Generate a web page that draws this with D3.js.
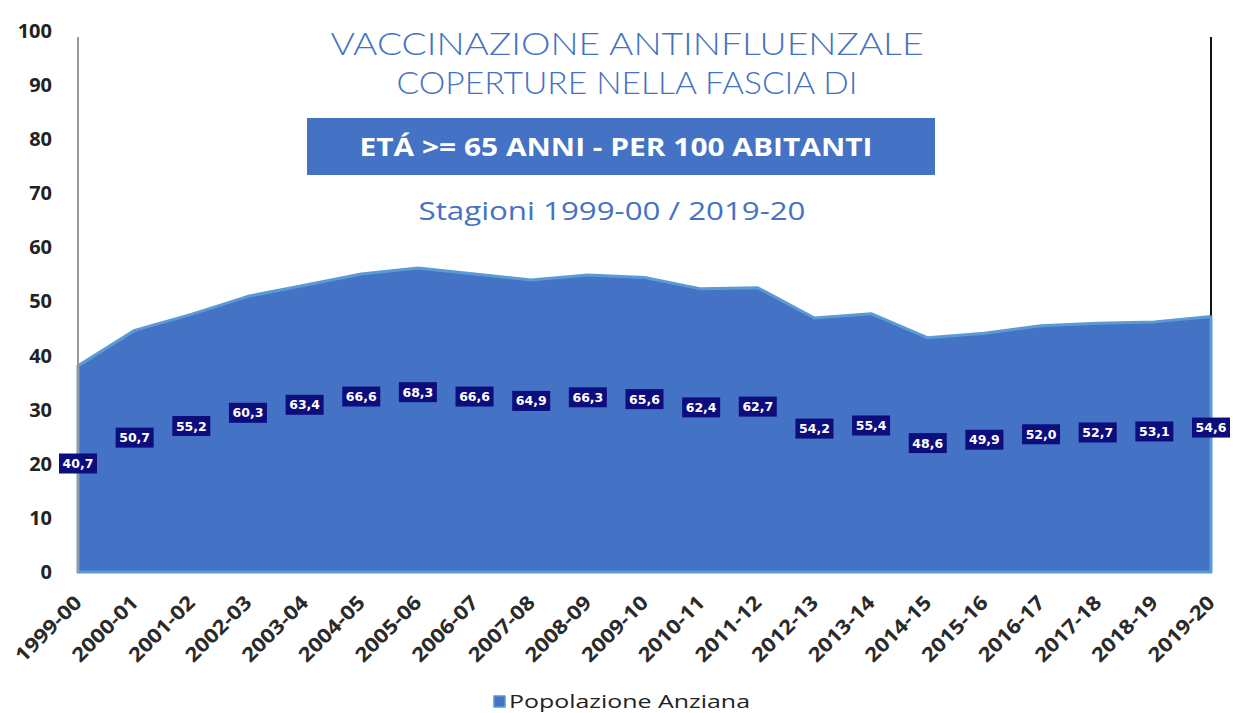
<!DOCTYPE html>
<html>
<head>
<meta charset="utf-8">
<script src="https://cdn.jsdelivr.net/npm/d3@7"></script>
<style>
  html, body { margin: 0; padding: 0; background: #ffffff; }
  svg { display: block; }
</style>
</head>
<body>
<svg id="chart" width="1233" height="713"></svg>
<script>
// ---- data ----
const seasons = ["1999-00","2000-01","2001-02","2002-03","2003-04","2004-05","2005-06","2006-07","2007-08","2008-09","2009-10","2010-11","2011-12","2012-13","2013-14","2014-15","2015-16","2016-17","2017-18","2018-19","2019-20"];
const coverage = [40.7,50.7,55.2,60.3,63.4,66.6,68.3,66.6,64.9,66.3,65.6,62.4,62.7,54.2,55.4,48.6,49.9,52.0,52.7,53.1,54.6];
const yTicks = [0,10,20,30,40,50,60,70,80,90,100];
const seriesName = "Popolazione Anziana";
const titleLines = ["VACCINAZIONE ANTINFLUENZALE", "COPERTURE NELLA FASCIA DI"];
const bannerText = "ETÁ >= 65 ANNI - PER 100 ABITANTI";
const subtitle = "Stagioni 1999-00 / 2019-20";

const svg = d3.select("#chart");
const blue = "#4472c4", lightBlue = "#5b9bd5", navy = "#0d0d7d";

const x = d3.scalePoint().domain(seasons).range([78, 1211]);
const y = d3.scaleLinear().domain([0, 100]).range([572, 31]);
// the area in the reference is drawn on a compressed secondary scale
const yArea = d3.scaleLinear().domain([0, 100]).range([y(11.4), y(77.0)]);
// data labels sit on their own compressed scale
const yLabel = d3.scaleLinear().domain([0, 100]).range([y(0.6), y(48.4)]);

const data = seasons.map((s, i) => ({ s, v: coverage[i] }));

// area
const area = d3.area()
  .x(d => x(d.s))
  .y0(y(0))
  .y1(d => yArea(d.v));
svg.append("path")
  .datum(data)
  .attr("d", area)
  .attr("fill", blue)
  .attr("stroke", lightBlue)
  .attr("stroke-width", 3)
  .attr("stroke-linejoin", "round");

// left axis line
svg.append("line")
  .attr("x1", x(seasons[0])).attr("x2", x(seasons[0]))
  .attr("y1", y(100) + 6).attr("y2", y(0))
  .attr("stroke", "#9a9a9a").attr("stroke-width", 2);

// right black line
svg.append("line")
  .attr("x1", x(seasons[seasons.length-1])).attr("x2", x(seasons[seasons.length-1]))
  .attr("y1", y(100) + 6).attr("y2", yArea(coverage[coverage.length-1]) - 1)
  .attr("stroke", "#111").attr("stroke-width", 2);

// y axis labels
const yAxis = svg.append("g")
  .attr("transform", `translate(${x(seasons[0])},0)`)
  .call(d3.axisLeft(y).tickValues(yTicks).tickSize(0).tickPadding(26));
yAxis.select(".domain").remove();
yAxis.selectAll("text")
  .attr("font-family", "'Open Sans', sans-serif")
  .attr("font-weight", 700)
  .attr("font-size", 20)
  .attr("fill", "#222");

// x axis labels (rotated -45°)
const xAxis = svg.append("g").attr("class", "x-labels");
xAxis.selectAll("text").data(seasons).join("text")
  .attr("transform", d => `translate(${x(d) + 5},${y(0) + 32}) rotate(-45)`)
  .attr("text-anchor", "end")
  .attr("font-family", "'Open Sans', sans-serif")
  .attr("font-weight", 700)
  .attr("font-size", 20)
  .attr("fill", "#2a2a2a")
  .attr("textLength", 84).attr("lengthAdjust", "spacingAndGlyphs")
  .text(d => d);

// data labels
const lab = svg.append("g").selectAll("g").data(data).join("g")
  .attr("transform", d => `translate(${x(d.s)},${yLabel(d.v)})`);
lab.append("rect")
  .attr("x", -19).attr("y", -10).attr("width", 38).attr("height", 20)
  .attr("fill", navy);
lab.append("text")
  .attr("text-anchor", "middle")
  .attr("dy", "0.36em")
  .attr("font-family", "'DejaVu Sans', sans-serif")
  .attr("font-weight", 700)
  .attr("font-size", 12.5)
  .attr("fill", "#fff")
  .text(d => d3.format(".1f")(d.v).replace(".", ","));

// titles
const cx = 627;
svg.append("text")
  .attr("x", cx).attr("y", 55)
  .attr("text-anchor", "middle")
  .attr("font-family", "'Lato', sans-serif")
  .attr("font-weight", 300)
  .attr("font-size", 31)
  .attr("fill", blue)
  .attr("textLength", 593).attr("lengthAdjust", "spacingAndGlyphs")
  .text(titleLines[0]);
svg.append("text")
  .attr("x", cx).attr("y", 94)
  .attr("text-anchor", "middle")
  .attr("font-family", "'Lato', sans-serif")
  .attr("font-weight", 300)
  .attr("font-size", 31)
  .attr("fill", blue)
  .attr("textLength", 461).attr("lengthAdjust", "spacingAndGlyphs")
  .text(titleLines[1]);

svg.append("rect")
  .attr("x", 307).attr("y", 118).attr("width", 628).attr("height", 57)
  .attr("fill", blue);
svg.append("text")
  .attr("x", 616).attr("y", 156)
  .attr("text-anchor", "middle")
  .attr("font-family", "'Open Sans', sans-serif")
  .attr("font-weight", 700)
  .attr("font-size", 25)
  .attr("fill", "#fff")
  .attr("textLength", 513).attr("lengthAdjust", "spacingAndGlyphs")
  .text(bannerText);

svg.append("text")
  .attr("x", 612).attr("y", 220)
  .attr("text-anchor", "middle")
  .attr("font-family", "'Open Sans', sans-serif")
  .attr("font-size", 26)
  .attr("fill", blue)
  .attr("textLength", 387).attr("lengthAdjust", "spacingAndGlyphs")
  .text(subtitle);

// legend
svg.append("rect")
  .attr("x", 494).attr("y", 696).attr("width", 11).attr("height", 11)
  .attr("fill", blue).attr("stroke", lightBlue).attr("stroke-width", 1.5);
svg.append("text")
  .attr("x", 509).attr("y", 708)
  .attr("font-family", "'Open Sans', sans-serif")
  .attr("font-size", 18)
  .attr("fill", "#222")
  .attr("textLength", 241).attr("lengthAdjust", "spacingAndGlyphs")
  .text(seriesName);
</script>
</body>
</html>
